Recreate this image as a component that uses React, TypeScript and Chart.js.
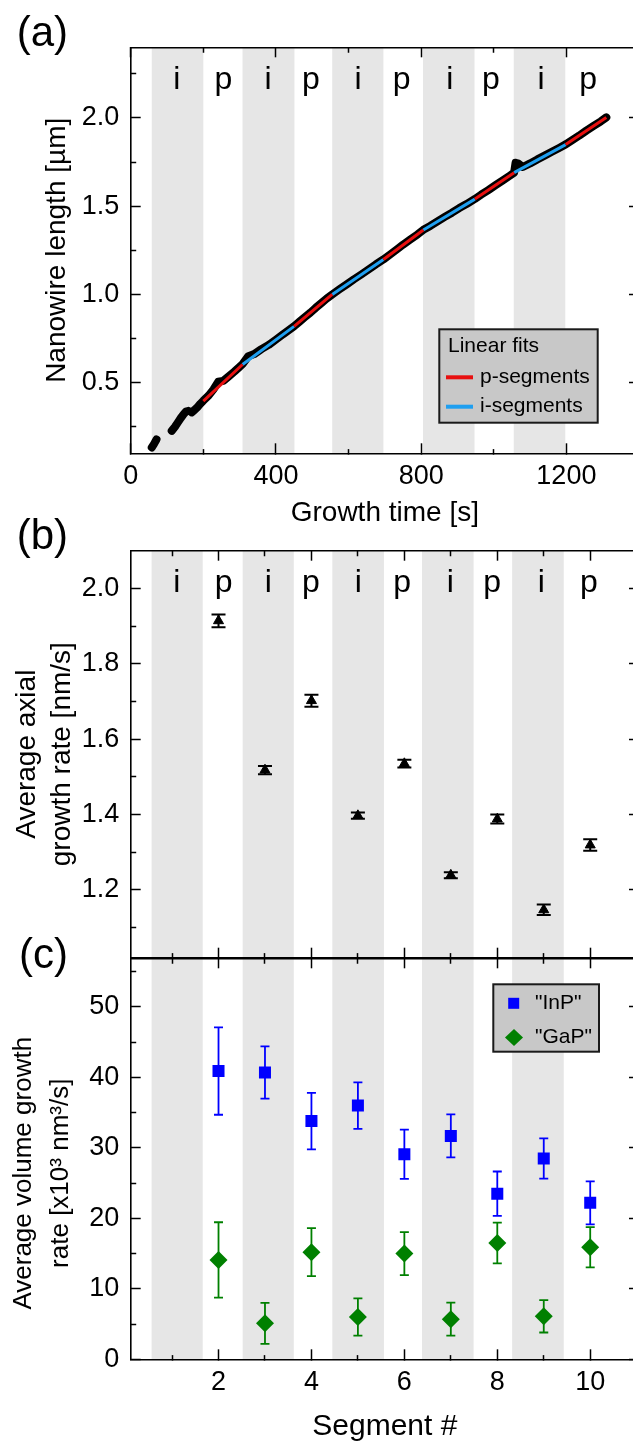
import React, { useEffect, useRef } from "react";
import { Chart, registerables } from "chart.js";

Chart.register(...registerables);

const FONT = '"Liberation Sans", Arial, Helvetica, sans-serif';

// ---------------- (a) Nanowire length vs growth time ----------------
const traceTime = [58, 64, 71, 90, 113, 122, 130, 138, 146, 152, 158, 163, 168, 176, 184, 192, 200, 215, 228, 241, 255, 270, 285, 298, 308, 324, 340, 360, 380, 400, 420, 435, 450, 465, 480, 495, 510, 525, 540, 555, 575, 595, 615, 635, 655, 675, 696, 715, 735, 750, 770, 790, 806, 825, 845, 865, 885, 905, 925, 948, 965, 985, 1005, 1025, 1045, 1056, 1060, 1068, 1080, 1100, 1120, 1140, 1160, 1180, 1198, 1215, 1235, 1255, 1275, 1295, 1310];
const traceLength = [0.133, 0.152, 0.178, null, 0.227, 0.25, 0.275, 0.3, 0.322, 0.336, 0.34, null, 0.332, 0.346, 0.362, 0.381, 0.398, 0.428, 0.462, 0.505, 0.51, 0.536, 0.562, 0.586, 0.605, 0.65, 0.662, 0.69, 0.714, 0.744, 0.775, 0.797, 0.82, 0.846, 0.872, 0.897, 0.925, 0.951, 0.977, 1.0, 1.029, 1.057, 1.086, 1.113, 1.141, 1.17, 1.198, 1.227, 1.258, 1.282, 1.311, 1.34, 1.366, 1.388, 1.414, 1.439, 1.463, 1.489, 1.512, 1.541, 1.565, 1.591, 1.619, 1.646, 1.674, 1.69, 1.746, 1.741, 1.722, 1.742, 1.765, 1.786, 1.808, 1.83, 1.85, 1.873, 1.899, 1.928, 1.955, 1.981, 2.003];

const pFitTime = [[200, 308], [450, 555], [696, 806], [948, 1056], [1198, 1310]];
const pFitLength = [[0.396, 0.603], [0.819, 1.0], [1.198, 1.365], [1.54, 1.689], [1.849, 2.003]];
const iFitTime = [[308, 450], [555, 696], [806, 948], [1056, 1198]];
const iFitLength = [[0.603, 0.819], [1.0, 1.198], [1.365, 1.54], [1.69, 1.849]];

const iBandTime = [[58, 200], [308, 451], [555, 696], [805, 947], [1055, 1197]];
const phaseNames = ["i", "p", "i", "p", "i", "p", "i", "p", "i", "p"];
const phaseLabelTime = [127, 255, 378, 496, 626, 746, 879, 992, 1130, 1260];

const timeTicks = [0, 200, 400, 600, 800, 1000, 1200, 1400];
const lengthTicks = [0.25, 0.5, 0.75, 1.0, 1.25, 1.5, 1.75, 2.0, 2.25];

// ---------------- (b) Average axial growth rate ----------------
const segments = [2, 3, 4, 5, 6, 7, 8, 9, 10];
const axialRate = [1.914, 1.518, 1.702, 1.397, 1.535, 1.239, 1.388, 1.147, 1.319];
const axialRateErr = [0.017, 0.011, 0.016, 0.008, 0.01, 0.008, 0.012, 0.014, 0.015];

const iBandSegment = [[0.56, 1.66], [2.52, 3.62], [4.45, 5.56], [6.38, 7.49], [8.32, 9.43]];
const phaseLabelSegment = [1.1, 2.11, 3.07, 3.99, 5.01, 5.95, 6.99, 7.89, 8.95, 9.97];

const segmentTicks = [1, 2, 3, 4, 5, 6, 7, 8, 9, 10];
const rateTicks = [1.1, 1.2, 1.3, 1.4, 1.5, 1.6, 1.7, 1.8, 1.9, 2.0];

// ---------------- (c) Average volume growth rate ----------------
const inpVolume = [40.9, 40.7, 33.8, 36.0, 29.1, 31.7, 23.5, 28.5, 22.2];
const inpVolumeErr = [6.2, 3.7, 4.0, 3.3, 3.5, 3.05, 3.15, 2.85, 3.05];
const gapVolume = [14.1, 5.1, 15.2, 6.0, 15.0, 5.7, 16.5, 6.1, 15.9];
const gapVolumeErr = [5.35, 2.9, 3.4, 2.65, 3.05, 2.35, 2.9, 2.3, 2.85];

const volumeTicks = [0, 5, 10, 15, 20, 25, 30, 35, 40, 45, 50, 55];

// ---------------- styling ----------------
const CANVAS_W = 641;
const VIEW_W = 633;
const MAJOR_TICK = 10;
const MINOR_TICK = 5.5;
const BAND_COLOR = "#e6e6e6";
const RED = "#e81010";
const LIGHT_BLUE = "#1f9ff0";
const BLUE = "#0000ff";
const GREEN = "#008000";

type Pos = "left" | "right" | "top" | "bottom";

function makeAxis(o: {
  position: Pos;
  min: number;
  max: number;
  ticks: number[];
  isMajor: (v: number) => boolean;
  fmt?: (v: number) => string;
  size: number;
  labelPad?: number;
  title?: any;
}) {
  const innerFirst = o.position === "left" || o.position === "top";
  const vertical = o.position === "left" || o.position === "right";
  return {
    type: "linear",
    position: o.position,
    min: o.min,
    max: o.max,
    display: true,
    afterBuildTicks: (s: any) => {
      s.ticks = o.ticks.map((v) => ({ value: v }));
    },
    afterFit: (s: any) => {
      if (vertical) s.width = o.size;
      else s.height = o.size;
      s.paddingTop = 0;
      s.paddingBottom = 0;
      s.paddingLeft = 0;
      s.paddingRight = 0;
    },
    border: { display: true, color: "#000", width: 1.6 },
    grid: {
      drawOnChartArea: false,
      drawTicks: true,
      tickLength: -MAJOR_TICK,
      tickWidth: 1.5,
      tickColor: "#000",
      tickBorderDash: (c: any) =>
        c.tick && !o.isMajor(c.tick.value)
          ? innerFirst
            ? [0, MAJOR_TICK - MINOR_TICK, MINOR_TICK, 100]
            : [MINOR_TICK, 100]
          : [],
    },
    ticks: {
      display: !!o.fmt,
      autoSkip: false,
      maxRotation: 0,
      minRotation: 0,
      padding: o.labelPad ?? 0,
      color: "#000",
      font: { family: FONT, size: 27 },
      callback: (v: number) => (o.fmt && o.isMajor(v) ? o.fmt(v) : ""),
    },
    title: o.title ?? { display: false },
  };
}

const isMult = (step: number) => (v: number) => Math.abs(v / step - Math.round(v / step)) < 1e-6;

function bandsPlugin(ranges: number[][]) {
  return {
    id: "bands",
    beforeDraw(chart: any) {
      const { ctx, chartArea, scales } = chart;
      ctx.save();
      ctx.fillStyle = BAND_COLOR;
      ranges.forEach(([a, b]) => {
        const x1 = scales.x.getPixelForValue(a);
        const x2 = scales.x.getPixelForValue(b);
        ctx.fillRect(x1, chartArea.top, x2 - x1, chartArea.bottom - chartArea.top);
      });
      ctx.restore();
    },
  };
}

function errorBarsPlugin(series: { xs: number[]; ys: number[]; errs: number[]; color: string; cap: number; width: number }[]) {
  return {
    id: "errorBars",
    beforeDatasetsDraw(chart: any) {
      const { ctx, scales } = chart;
      ctx.save();
      series.forEach((s) => {
        ctx.strokeStyle = s.color;
        ctx.lineWidth = s.width;
        s.xs.forEach((xv, i) => {
          const px = scales.x.getPixelForValue(xv);
          const yt = scales.y.getPixelForValue(s.ys[i] + s.errs[i]);
          const yb = scales.y.getPixelForValue(s.ys[i] - s.errs[i]);
          ctx.beginPath();
          ctx.moveTo(px, yt);
          ctx.lineTo(px, yb);
          ctx.moveTo(px - s.cap, yt);
          ctx.lineTo(px + s.cap, yt);
          ctx.moveTo(px - s.cap, yb);
          ctx.lineTo(px + s.cap, yb);
          ctx.stroke();
        });
      });
      ctx.restore();
    },
  };
}

function overlayPlugin(o: {
  panel: { text: string; x: number; y: number };
  phase?: { positions: number[]; names: string[]; offset: number };
  legend?: (ctx: CanvasRenderingContext2D) => void;
}) {
  return {
    id: "overlay",
    afterDraw(chart: any) {
      const { ctx, chartArea, scales } = chart;
      ctx.save();
      ctx.fillStyle = "#000";
      if (o.phase) {
        ctx.font = `32px ${FONT}`;
        ctx.textAlign = "center";
        ctx.textBaseline = "middle";
        o.phase.positions.forEach((v, i) => {
          ctx.fillText(o.phase!.names[i], scales.x.getPixelForValue(v), chartArea.top + o.phase!.offset);
        });
      }
      ctx.font = `42px ${FONT}`;
      ctx.textAlign = "right";
      ctx.textBaseline = "middle";
      ctx.fillText(o.panel.text, o.panel.x, o.panel.y);
      if (o.legend) o.legend(ctx);
      ctx.restore();
    },
  };
}

function legendBox(ctx: CanvasRenderingContext2D, x: number, y: number, w: number, h: number) {
  ctx.fillStyle = "#c8c8c8";
  ctx.fillRect(x, y, w, h);
  ctx.strokeStyle = "#1a1a1a";
  ctx.lineWidth = 2;
  ctx.strokeRect(x, y, w, h);
}

const baseOptions = (padTop: number) => ({
  responsive: false,
  animation: false,
  devicePixelRatio: 1,
  events: [],
  layout: { padding: { top: padTop, left: 0, right: CANVAS_W - 639, bottom: 0 }, autoPadding: false },
  plugins: { legend: { display: false }, tooltip: { enabled: false }, title: { display: false } },
});

// ---------------- chart configs ----------------
function configA() {
  const traceData = traceTime.map((t, i) => ({ x: t, y: traceLength[i] }));
  const pData = pFitTime.flatMap((seg, k) => [
    { x: seg[0], y: pFitLength[k][0] },
    { x: seg[1], y: pFitLength[k][1] },
    { x: seg[1], y: null },
  ]);
  const iData = iFitTime.flatMap((seg, k) => [
    { x: seg[0], y: iFitLength[k][0] },
    { x: seg[1], y: iFitLength[k][1] },
    { x: seg[1], y: null },
  ]);
  const yMajor = isMult(0.5);
  const xMajor = isMult(400);
  return {
    type: "scatter",
    data: {
      datasets: [
        { label: "p-segments", data: pData, showLine: true, borderColor: RED, borderWidth: 3, pointRadius: 0, spanGaps: false },
        { label: "i-segments", data: iData, showLine: true, borderColor: LIGHT_BLUE, borderWidth: 3, pointRadius: 0, spanGaps: false },
        {
          label: "Nanowire length",
          data: traceData,
          showLine: true,
          borderColor: "#000",
          borderWidth: 8,
          pointRadius: 0,
          spanGaps: false,
          borderCapStyle: "round",
          borderJoinStyle: "round",
        },
      ],
    },
    options: {
      ...baseOptions(47.3),
      scales: {
        x: makeAxis({
          position: "bottom", min: 0, max: 1400, ticks: timeTicks, isMajor: xMajor, fmt: (v) => String(v), size: 540 - 453.3, labelPad: 17.2,
          title: { display: true, text: "Growth time [s]", color: "#000", font: { family: FONT, size: 28, lineHeight: 1.2 }, padding: { top: 0, bottom: 10.2 } },
        }),
        x2: makeAxis({ position: "top", min: 0, max: 1400, ticks: timeTicks, isMajor: xMajor, size: 0 }),
        y: makeAxis({
          position: "left", min: 0.1, max: 2.4, ticks: lengthTicks, isMajor: yMajor, fmt: (v) => v.toFixed(1), size: 130.7, labelPad: 21.5,
          title: { display: true, text: "Nanowire length [µm]", color: "#000", font: { family: FONT, size: 28, lineHeight: 1.2 }, padding: { top: 40.2, bottom: 0 } },
        }),
        y2: makeAxis({ position: "right", min: 0.1, max: 2.4, ticks: lengthTicks, isMajor: yMajor, size: 0 }),
      },
    },
    plugins: [
      bandsPlugin(iBandTime),
      overlayPlugin({
        panel: { text: "(a)", x: 68, y: 34 },
        phase: { positions: phaseLabelTime, names: phaseNames, offset: 32.5 },
        legend: (ctx) => {
          legendBox(ctx, 439.3, 329.3, 158.4, 93.4);
          ctx.fillStyle = "#000";
          ctx.font = `21px ${FONT}`;
          ctx.textAlign = "left";
          ctx.textBaseline = "middle";
          ctx.fillText("Linear fits", 448, 346);
          const rows: [string, string, number][] = [["p-segments", RED, 377.3], ["i-segments", LIGHT_BLUE, 406.7]];
          rows.forEach(([txt, col, yy]) => {
            ctx.strokeStyle = col;
            ctx.lineWidth = 4;
            ctx.beginPath();
            ctx.moveTo(446, yy);
            ctx.lineTo(473, yy);
            ctx.stroke();
            ctx.fillStyle = "#000";
            ctx.fillText(txt, 480, yy);
          });
        },
      }),
    ],
  };
}

function configB() {
  const yMajor = isMult(0.2);
  const xMajor = isMult(2);
  return {
    type: "scatter",
    data: {
      datasets: [
        {
          label: "Average axial growth rate",
          data: segments.map((s, i) => ({ x: s, y: axialRate[i] })),
          pointStyle: "triangle",
          pointRadius: 5.8,
          backgroundColor: "#000",
          borderColor: "#000",
          borderWidth: 1,
        },
      ],
    },
    options: {
      ...baseOptions(50.7),
      scales: {
        x: makeAxis({ position: "bottom", min: 0.11, max: 11.05, ticks: segmentTicks, isMajor: xMajor, size: 2.3 }),
        x2: makeAxis({ position: "top", min: 0.11, max: 11.05, ticks: segmentTicks, isMajor: xMajor, size: 0 }),
        y: makeAxis({
          position: "left", min: 1.02, max: 2.1, ticks: rateTicks, isMajor: yMajor, fmt: (v) => v.toFixed(1), size: 130.7, labelPad: 21.5,
          title: { display: true, text: ["Average axial", "growth rate [nm/s]"], color: "#000", font: { family: FONT, size: 28, lineHeight: 1.25 }, padding: { top: 9.5, bottom: 0 } },
        }),
        y2: makeAxis({ position: "right", min: 1.02, max: 2.1, ticks: rateTicks, isMajor: yMajor, size: 0 }),
      },
    },
    plugins: [
      bandsPlugin(iBandSegment),
      errorBarsPlugin([{ xs: segments, ys: axialRate, errs: axialRateErr, color: "#000", cap: 7, width: 2 }]),
      overlayPlugin({
        panel: { text: "(b)", x: 68, y: 37.5 },
        phase: { positions: phaseLabelSegment, names: phaseNames, offset: 32.5 },
      }),
    ],
  };
}

function configC() {
  const yMajor = isMult(10);
  const xMajor = isMult(2);
  const pad = "\u00a0\u00a0\u00a0\u00a0";
  return {
    type: "scatter",
    data: {
      datasets: [
        {
          label: '"InP"',
          data: segments.map((s, i) => ({ x: s, y: inpVolume[i] })),
          pointStyle: "rect",
          pointRadius: 8.5,
          backgroundColor: BLUE,
          borderColor: BLUE,
          borderWidth: 0,
        },
        {
          label: '"GaP"',
          data: segments.map((s, i) => ({ x: s, y: gapVolume[i] })),
          pointStyle: "rectRot",
          pointRadius: 9,
          backgroundColor: GREEN,
          borderColor: GREEN,
          borderWidth: 0,
        },
      ],
    },
    options: {
      ...baseOptions(58.3),
      scales: {
        x: makeAxis({
          position: "bottom", min: 0.11, max: 11.05, ticks: segmentTicks, isMajor: xMajor, fmt: (v) => String(v), size: 90.7, labelPad: 17.5,
          title: { display: true, text: "Segment #", color: "#000", font: { family: FONT, size: 30, lineHeight: 1.2 }, padding: { top: 0, bottom: 5.3 } },
        }),
        x2: makeAxis({ position: "top", min: 0.11, max: 11.05, ticks: segmentTicks, isMajor: xMajor, size: 0 }),
        y: makeAxis({
          position: "left", min: 0, max: 56.9, ticks: volumeTicks, isMajor: yMajor, fmt: (v) => String(v), size: 130.7, labelPad: 21.5,
          title: {
            display: true,
            text: ["Average volume growth" + pad, "rate [x10³ nm³/s]" + pad],
            color: "#000",
            font: { family: FONT, size: 26, lineHeight: 1.4 },
            padding: { top: 5.8, bottom: 0 },
          },
        }),
        y2: makeAxis({ position: "right", min: 0, max: 56.9, ticks: volumeTicks, isMajor: yMajor, size: 0 }),
      },
    },
    plugins: [
      bandsPlugin(iBandSegment),
      errorBarsPlugin([
        { xs: segments, ys: inpVolume, errs: inpVolumeErr, color: BLUE, cap: 4.5, width: 1.8 },
        { xs: segments, ys: gapVolume, errs: gapVolumeErr, color: GREEN, cap: 4.5, width: 1.8 },
      ]),
      overlayPlugin({
        panel: { text: "(c)", x: 68, y: 56 },
        legend: (ctx) => {
          legendBox(ctx, 493.3, 84.3, 105.7, 67.4);
          ctx.fillStyle = BLUE;
          ctx.fillRect(513.7 - 5.5, 103.3 - 5.5, 11, 11);
          ctx.fillStyle = GREEN;
          ctx.beginPath();
          ctx.moveTo(514, 137.5 - 8.5);
          ctx.lineTo(514 + 9, 137.5);
          ctx.lineTo(514, 137.5 + 8.5);
          ctx.lineTo(514 - 9, 137.5);
          ctx.closePath();
          ctx.fill();
          ctx.fillStyle = "#000";
          ctx.font = `21px ${FONT}`;
          ctx.textAlign = "left";
          ctx.textBaseline = "middle";
          ctx.fillText('"InP"', 535, 103.3);
          ctx.fillText('"GaP"', 535, 137.5);
        },
      }),
    ],
  };
}

function Panel({ top, height, make }: { top: number; height: number; make: () => any }) {
  const ref = useRef<HTMLCanvasElement>(null);
  useEffect(() => {
    if (!ref.current) return;
    const chart = new Chart(ref.current, make());
    return () => chart.destroy();
  }, []);
  return (
    <div style={{ position: "absolute", left: 0, top, width: CANVAS_W, height }}>
      <canvas ref={ref} width={CANVAS_W} height={height} style={{ width: CANVAS_W, height, display: "block" }} />
    </div>
  );
}

export default function App() {
  return (
    <div
      style={{
        position: "absolute",
        left: 0,
        top: 0,
        width: VIEW_W,
        height: 1444,
        overflow: "hidden",
        background: "#fff",
      }}
    >
      <Panel top={0} height={540} make={configA} />
      <Panel top={500} height={460} make={configB} />
      <Panel top={900} height={550} make={configC} />
    </div>
  );
}
